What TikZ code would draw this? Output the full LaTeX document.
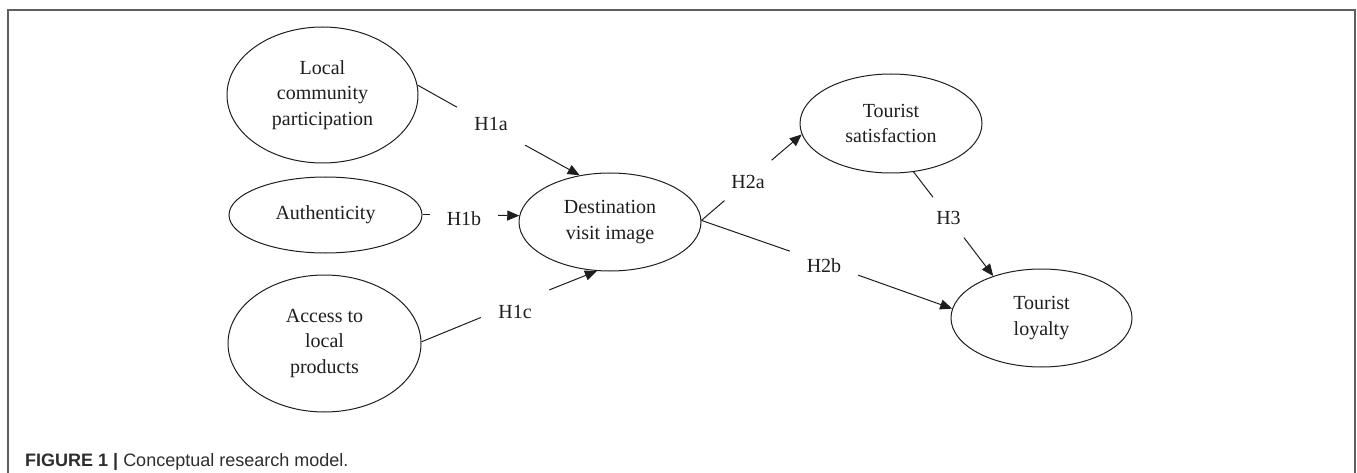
\documentclass[tikz,border=0pt]{standalone}
\usepackage{fontspec}
\setmainfont{Liberation Serif}
\newfontfamily\capfont{Liberation Sans}
\usetikzlibrary{shapes.geometric,arrows.meta}
\definecolor{framegray}{RGB}{95,95,95}
\definecolor{ink}{RGB}{30,30,30}
\definecolor{capgray}{RGB}{45,45,45}
\begin{document}
\begin{tikzpicture}[x=1pt,y=-1pt,
  construct/.style={ellipse, draw=ink, line width=1pt, inner sep=0pt, align=center,
    font=\fontsize{20}{25.5}\selectfont, text=ink},
  hyp/.style={rectangle, minimum width=68pt, minimum height=40pt, inner sep=0pt,
    font=\fontsize{20}{24}\selectfont, text=ink},
  link/.style={draw=ink, line width=1pt},
  arrowlink/.style={link, -{Triangle[length=12pt,width=10pt]}}]
\useasboundingbox (0,0) rectangle (1357,473);
\draw[framegray, line width=1.6pt] (8,480) -- (8,10) -- (1355,10) -- (1355,480);

% constructs
\node[construct, minimum width=191pt, minimum height=136pt] (local) at (322.5,95) {Local\\community\\participation};
\node[construct, minimum width=193pt, minimum height=76pt] (auth) at (325.5,215) {Authenticity};
\node[construct, minimum width=193pt, minimum height=137pt] (access) at (324.5,343.5) {Access to\\local\\products};
\node[construct, minimum width=182pt, minimum height=98pt] (dest) at (610,222) {Destination\\visit image};
\node[construct, minimum width=182pt, minimum height=99pt] (sat) at (891,123.5) {Tourist\\satisfaction};
\node[construct, minimum width=181pt, minimum height=98pt] (loy) at (1041.5,318) {Tourist\\loyalty};

% hypothesis labels (node sits on the connector, text offset)
\node[hyp] (h1a) at (491,126.3) {\raisebox{-4.3pt}[0pt][0pt]{H1a}};
\node[hyp] (h1b) at (464,215) {\raisebox{-10.6pt}[0pt][0pt]{H1b}};
\node[hyp] (h1c) at (515,303.5) {\raisebox{-15.1pt}[0pt][0pt]{H1c}};
\node[hyp] (h2a) at (748,180.4) {\raisebox{-8.2pt}[0pt][0pt]{H2a}};
\node[hyp] (h2b) at (824,263) {\raisebox{-9.6pt}[0pt][0pt]{H2b}};
\node[hyp] (h3) at (948.5,217.4) {\raisebox{-7.2pt}[0pt][0pt]{H3}};

% connectors
\draw[link] (local.6) -- (h1a);
\draw[arrowlink] (h1a) -- (dest.123);
\draw[link] (auth.east) -- (h1b);
\draw[arrowlink] (h1b) -- (dest.176);
\draw[link] (access.1) -- (h1c);
\draw[arrowlink] (h1c) -- (dest.255);
\draw[link] (dest.1) -- (h2a);
\draw[arrowlink] (h2a) -- (sat.187);
\draw[link] (dest.1) -- (h2b);
\draw[arrowlink] (h2b) -- (loy.174);
\draw[link] (sat.295) -- (h3);
\draw[arrowlink] (h3) -- (loy.139);

% caption
\node[anchor=base west, inner sep=0pt, font=\capfont\fontsize{18}{18}\selectfont, text=capgray] (caption) at (25,466)
  {\textbf{FIGURE 1 | }Conceptual research model.};
\end{tikzpicture}
\end{document}
